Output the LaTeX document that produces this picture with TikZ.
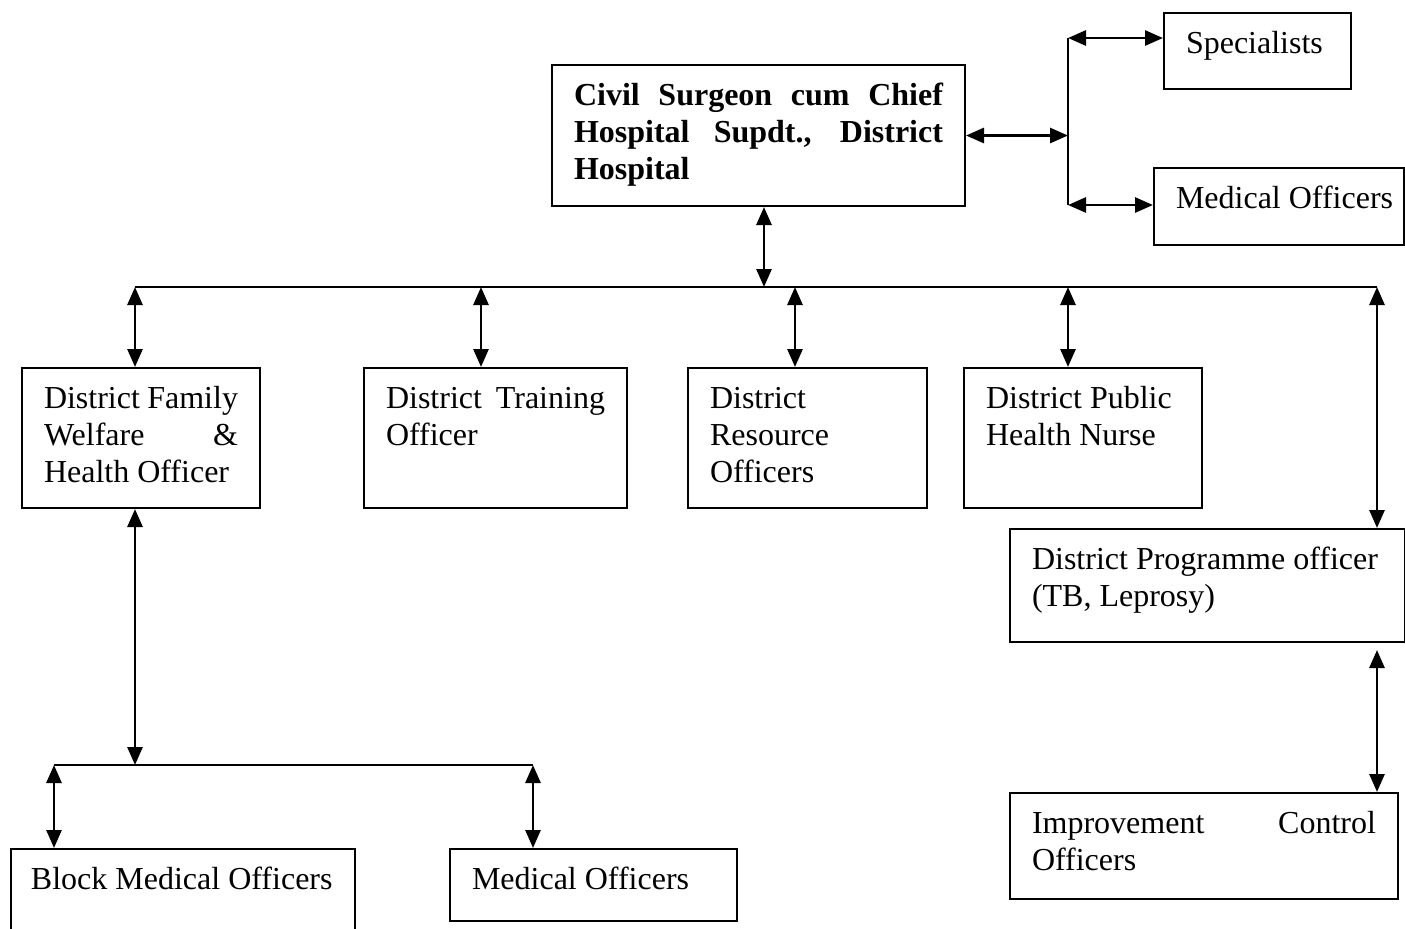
\documentclass[tikz,border=0pt]{standalone}
\usepackage{fontspec}
\setmainfont{Liberation Serif}
\usetikzlibrary{arrows.meta}

\begin{document}
\begin{tikzpicture}[x=0.5pt,y=-0.5pt]

    \tikzset{
      box/.style = { draw, line width=1pt, anchor=north west,
                     align=justify, inner xsep=11pt, inner ysep=0pt,
                     text height=20pt, font=\fontsize{16}{18.5}\selectfont },
      link/.style = { line width=1.4pt,
                      {Triangle[length=9pt,width=7.5pt]}-{Triangle[length=9pt,width=7.5pt]} },
      bus/.style = { line width=0.8pt } }
    \useasboundingbox (0,0) rectangle (1405,928);

      % top level
      \node[box, text width=184.5pt, text depth=50.5pt] (civ) at (551,64)
        {\bfseries Civil Surgeon cum Chief\linebreak Hospital Supdt., District\linebreak Hospital};
      \node[box, text width=71.5pt, text depth=18pt] (spec) at (1163,12) {\mbox{Specialists}};
      \node[box, text width=103pt, text depth=18.5pt] (mo1) at (1153,167) {\mbox{Medical Officers}};

      % district officers
      \node[box, text width=97pt, text depth=50pt] (fam) at (21,367)
        {District Family\linebreak Welfare \&\linebreak Health Officer};
      \node[box, text width=109.5pt, text depth=50pt] (trn) at (363,367)
        {District Training\linebreak Officer};
      \node[box, text width=97.5pt, text depth=50pt] (res) at (687,367)
        {District\\ Resource\\ Officers};
      \node[box, text width=97pt, text depth=50pt] (pub) at (963,367)
        {District Public\\ Health Nurse};
      \node[box, text width=175.5pt, text depth=36.5pt] (dpo) at (1009,528)
        {\mbox{District Programme officer}\\ (TB, Leprosy)};
      \node[box, text width=172pt, text depth=33pt] (imp) at (1009,792)
        {Improvement Control\linebreak Officers};

      % block level
      \node[box, inner xsep=10pt, text width=152pt, text depth=30pt] (blk) at (10,848)
        {\mbox{Block Medical Officers}};
      \node[box, text width=121.5pt, text depth=16pt] (mo2) at (449,848) {\mbox{Medical Officers}};

      % buses
      \coordinate (hub) at (764,287);
      \coordinate (b1) at (135,287);
      \coordinate (b2) at (481,287);
      \coordinate (b3) at (795,287);
      \coordinate (b4) at (1068,287);
      \coordinate (b5) at (1377,287);
      \coordinate (brkT) at (1068,38);
      \coordinate (brkB) at (1068,205);
      \coordinate (famhub) at (135,765);
      \coordinate (lb1) at (54,765);
      \coordinate (lb2) at (533,765);

      \draw[bus] (b1) -- (b5);
      \draw[bus] (brkT) -- (brkB);
      \draw[bus] (lb1) -- (lb2);

      \draw[link] (civ.east) -- (civ.east -| brkT);
      \draw[link] (brkT) -- (brkT -| spec.west);
      \draw[link] (brkB) -- (brkB -| mo1.west);
      \draw[link] (civ.south -| hub) -- (hub);

      \draw[link] (b1) -- (b1 |- fam.north);
      \draw[link] (b2) -- (b2 |- trn.north);
      \draw[link] (b3) -- (b3 |- res.north);
      \draw[link] (b4) -- (b4 |- pub.north);
      \draw[link] (b5) -- (b5 |- dpo.north);
      \draw[link, shorten <=3.5pt] (dpo.south -| b5) -- (imp.north -| b5);

      \draw[link] (fam.south -| famhub) -- (famhub);
      \draw[link] (lb1) -- (lb1 |- blk.north);
      \draw[link] (lb2) -- (lb2 |- mo2.north);
    \end{tikzpicture}
\end{document}
